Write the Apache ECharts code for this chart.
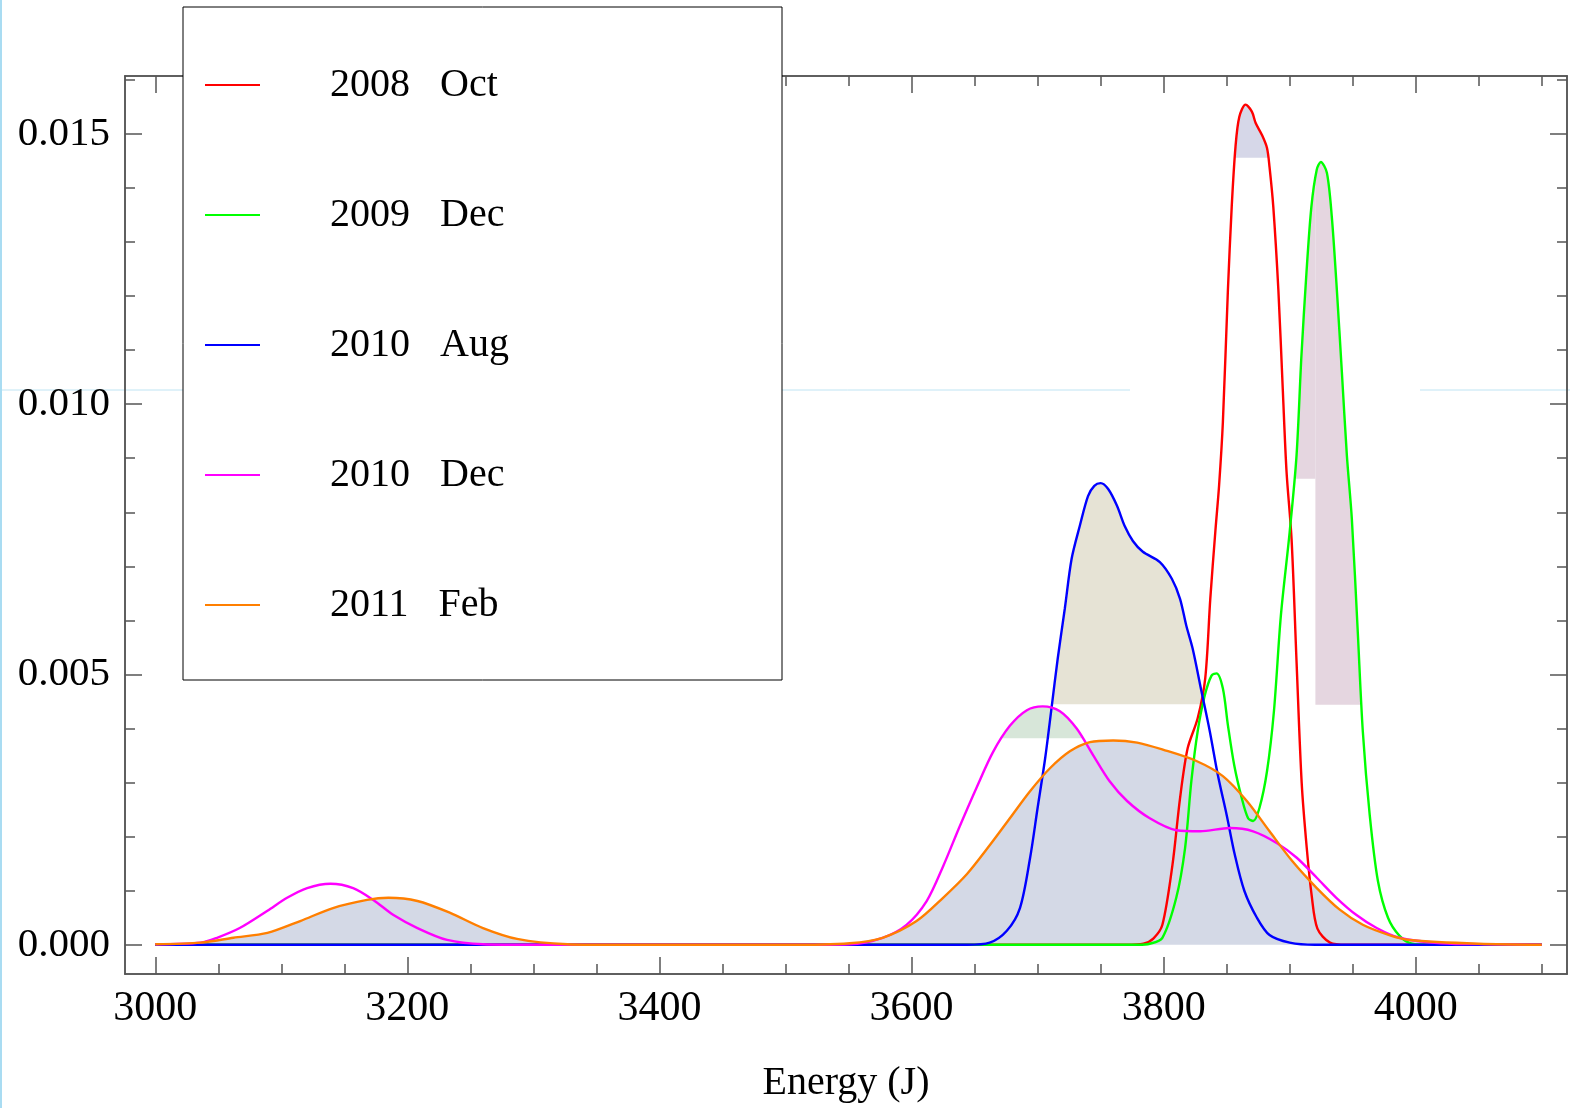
<!DOCTYPE html>
<html>
<head>
<meta charset="utf-8">
<title>Energy density</title>
<script src="https://cdn.jsdelivr.net/npm/echarts@6/dist/echarts.min.js"></script>
<style>
  html, body { margin: 0; padding: 0; background: #fff; }
  #chart { width: 1570px; height: 1108px; }
</style>
</head>
<body>
<div id="chart"></div>
<script>
// values, x in J, y = density
var seriesNames = ['2008   Oct', '2009   Dec', '2010   Aug', '2010   Dec', '2011   Feb'];
var seriesColors = ['#ff0000', '#00ff00', '#0000ff', '#ff00ff', '#ff7f00'];

var oct2008X = [3000, 3770, 3784, 3792, 3799, 3807, 3813, 3819, 3827, 3833, 3837, 3841, 3844, 3847, 3851, 3854, 3857, 3860, 3865, 3870, 3873, 3878, 3882, 3884, 3887, 3891, 3894.5, 3897.5, 3901.5, 3905.5, 3909.5, 3913.5, 3917.5, 3922, 3932, 3945, 4100];
var oct2008Y = [0, 0, 0.00002, 0.00012, 0.00037, 0.00148, 0.00271, 0.00363, 0.00419, 0.00493, 0.0064, 0.00764, 0.0085, 0.00967, 0.01212, 0.01365, 0.01476, 0.01531, 0.01554, 0.01541, 0.0152, 0.01498, 0.01474, 0.01439, 0.01365, 0.01212, 0.01028, 0.00875, 0.0075, 0.0052, 0.003, 0.0018, 0.0009, 0.0003, 0.00004, 0, 0];

var dec2009X = [3000, 3780, 3789, 3799, 3810, 3817, 3822, 3827, 3832.6, 3838, 3842, 3847, 3851, 3856, 3862, 3867, 3871, 3876, 3882, 3887.5, 3893, 3900, 3905.4, 3909.3, 3913.3, 3917.2, 3921.5, 3924.7, 3929.5, 3933.4, 3937.4, 3941.4, 3945.4, 3949.3, 3954, 3958, 3963.5, 3970, 3978, 3987, 3997, 4010, 4100];
var dec2009Y = [0, 0, 0.00002, 0.00013, 0.00087, 0.00179, 0.00303, 0.00395, 0.00461, 0.00498, 0.00502, 0.00474, 0.00406, 0.00332, 0.00271, 0.00234, 0.00229, 0.00253, 0.00321, 0.00432, 0.00609, 0.00764, 0.00904, 0.01089, 0.01243, 0.01365, 0.01434, 0.01448, 0.01428, 0.01347, 0.01212, 0.01059, 0.00904, 0.00788, 0.00579, 0.00395, 0.0024, 0.00118, 0.0005, 0.00017, 0.00002, 0, 0];

var aug2010X = [3000, 3644, 3662, 3675.6, 3686, 3694, 3700, 3706, 3711, 3716, 3721.6, 3727, 3733.5, 3740, 3745, 3750, 3756, 3763, 3769, 3775.6, 3783.5, 3797, 3806.5, 3813, 3818, 3823, 3830, 3836.6, 3843, 3850, 3856.5, 3864, 3874, 3884, 3900, 3920, 4100];
var aug2010Y = [0, 0, 0.00004, 0.00026, 0.00068, 0.0016, 0.00253, 0.00345, 0.00437, 0.0053, 0.00622, 0.00714, 0.00775, 0.0083, 0.00849, 0.00854, 0.00843, 0.00812, 0.00775, 0.00747, 0.00727, 0.00708, 0.00677, 0.0064, 0.0059, 0.00548, 0.00469, 0.00395, 0.00314, 0.0024, 0.00166, 0.001, 0.0005, 0.00018, 0.00004, 0, 0];

var dec2010X = [3000, 3036, 3049, 3067, 3089, 3104.6, 3120.5, 3139, 3157, 3173, 3189, 3208, 3231.5, 3260, 3300, 3500, 3551, 3577, 3596, 3612, 3625, 3638, 3652, 3664.5, 3678, 3691.5, 3704, 3717.7, 3731, 3744, 3757, 3771, 3789, 3810, 3829, 3852.5, 3871, 3890, 3905.6, 3921.5, 3937, 3953, 3969, 3987, 4020, 4060, 4100];
var dec2010Y = [0.00001, 0.00004, 0.00013, 0.00031, 0.00063, 0.00087, 0.00105, 0.00113, 0.00105, 0.00083, 0.00055, 0.00031, 0.00009, 0.00001, 0, 0, 0.00001, 0.00013, 0.00037, 0.00081, 0.00145, 0.00218, 0.00293, 0.00356, 0.00405, 0.00434, 0.00441, 0.00432, 0.004, 0.00351, 0.00303, 0.00266, 0.00234, 0.00212, 0.0021, 0.00216, 0.0021, 0.00188, 0.00161, 0.00124, 0.00087, 0.00055, 0.00031, 0.00013, 0.00003, 0.00001, 0];

var feb2011X = [3000, 3036, 3062, 3089, 3115, 3141, 3168, 3185, 3208, 3234, 3260, 3287, 3327, 3360, 3500, 3551, 3577, 3604, 3625, 3644, 3662, 3678, 3694, 3710, 3725.6, 3741.5, 3760, 3779, 3799.4, 3826, 3847, 3866, 3884, 3902, 3921.5, 3939.7, 3958, 3979, 3995, 4050, 4100];
var feb2011Y = [0.00001, 0.00004, 0.00013, 0.00022, 0.00044, 0.00068, 0.00083, 0.00087, 0.00081, 0.00059, 0.00031, 0.00011, 0.00001, 0, 0, 0.00003, 0.00013, 0.00044, 0.00087, 0.00131, 0.00184, 0.00234, 0.00284, 0.00327, 0.00358, 0.00375, 0.00378, 0.00374, 0.00361, 0.0034, 0.00312, 0.00266, 0.0021, 0.00155, 0.00105, 0.00065, 0.00037, 0.00018, 0.00009, 0.00002, 0];

var xMajorTicks = [3000, 3200, 3400, 3600, 3800, 4000];
var xMinorTicks = [3050, 3100, 3150, 3250, 3300, 3350, 3450, 3500, 3550, 3650, 3700, 3750, 3850, 3900, 3950, 4050, 4100];
var yMajorTicks = [0, 0.005, 0.010, 0.015];
var yMinorTicks = [0.001, 0.002, 0.003, 0.004, 0.006, 0.007, 0.008, 0.009, 0.011, 0.012, 0.013, 0.014, 0.016];

var allX = [oct2008X, dec2009X, aug2010X, dec2010X, feb2011X];
var allY = [oct2008Y, dec2009Y, aug2010Y, dec2010Y, feb2011Y];

var FONT = 'Liberation Serif';
var FRAME = '#555';
var SMOOTH = 0.3;

function pairs(xs, ys) {
    var out = [];
    for (var i = 0; i < xs.length; i++) out.push([xs[i], ys[i]]);
    return out;
}

// part of a curve above a level, cut to [x0, x1] (the odd shaded patches)
function above(xs, ys, level, x0, x1) {
    var out = [];
    function yAt(x) {
        for (var i = 0; i < xs.length - 1; i++) {
            if (x >= xs[i] && x <= xs[i + 1]) {
                var t = (x - xs[i]) / (xs[i + 1] - xs[i]);
                return ys[i] + t * (ys[i + 1] - ys[i]);
            }
        }
        return 0;
    }
    var pts = [x0];
    for (var i = 0; i < xs.length; i++) if (xs[i] > x0 && xs[i] < x1) pts.push(xs[i]);
    pts.push(x1);
    for (var k = 0; k < pts.length; k++) {
        var y = yAt(pts[k]);
        if (k > 0) {
            var yp = yAt(pts[k - 1]);
            if ((yp - level) * (y - level) < 0) {
                var xc = pts[k - 1] + (level - yp) / (y - yp) * (pts[k] - pts[k - 1]);
                out.push([xc, level]);
            }
        }
        if (y >= level) out.push([pts[k], y]);
    }
    return out;
}

function fill(data, level, color) {
    return {
        type: 'line',
        data: data,
        smooth: SMOOTH,
        symbol: 'none',
        silent: true,
        lineStyle: { width: 0, opacity: 0 },
        areaStyle: { color: color, opacity: 1, origin: level },
        z: 1
    };
}

var series = [];
series.push(fill(pairs(feb2011X, feb2011Y), 0, '#d4d9e6'));
series.push(fill(above(oct2008X, oct2008Y, 0.01456, 3000, 4100), 0.01456, '#d6d7e8'));
series.push(fill(above(dec2009X, dec2009Y, 0.00444, 3920.4, 4100), 0.00444, '#e5d6e0'));
series.push(fill(above(dec2009X, dec2009Y, 0.00862, 3904.8, 3920.4), 0.00862, '#e5d6e0'));
series.push(fill(above(aug2010X, aug2010Y, 0.00445, 3000, 4100), 0.00445, '#e6e3d5'));
series.push(fill(above(dec2010X, dec2010Y, 0.00382, 3000, 4100), 0.00382, '#d7e6d9'));

for (var s = 0; s < seriesNames.length; s++) {
    series.push({
        name: seriesNames[s],
        type: 'line',
        data: pairs(allX[s], allY[s]),
        smooth: SMOOTH,
        symbol: 'none',
        color: seriesColors[s],
        lineStyle: { width: 2.4, color: seriesColors[s] },
        z: 3
    });
}

function xAx(pos, ticks, len, labels) {
    return {
        type: 'value', position: pos, min: 2976, max: 4120,
        axisLine: { show: true, onZero: false, lineStyle: { color: FRAME, width: 1.5 } },
        axisTick: { show: true, inside: true, length: len, customValues: ticks, lineStyle: { color: FRAME, width: 1.5 } },
        axisLabel: labels ? { show: true, customValues: ticks, margin: 14, fontSize: 42, fontFamily: FONT, color: '#000',
            formatter: function (v) { return String(v); } } : { show: false },
        splitLine: { show: false }
    };
}
function yAx(pos, ticks, len, labels) {
    return {
        type: 'value', position: pos, min: -0.00054, max: 0.01607,
        axisLine: { show: true, onZero: false, lineStyle: { color: FRAME, width: 1.5 } },
        axisTick: { show: true, inside: true, length: len, customValues: ticks, lineStyle: { color: FRAME, width: 1.5 } },
        axisLabel: labels ? { show: true, customValues: ticks, margin: 15, fontSize: 41, fontFamily: FONT, color: '#000',
            formatter: function (v) { return v.toFixed(3); } } : { show: false },
        splitLine: { show: false }
    };
}

var xAxes = [xAx('bottom', xMajorTicks, 17, true), xAx('bottom', xMinorTicks, 10, false),
             xAx('top', xMajorTicks, 17, false), xAx('top', xMinorTicks, 10, false)];
xAxes[0].name = 'Energy (J)';
xAxes[0].nameLocation = 'middle';
xAxes[0].nameGap = 89;
xAxes[0].nameTextStyle = { fontSize: 40, fontFamily: FONT, color: '#000' };

var yAxes = [yAx('left', yMajorTicks, 17, true), yAx('left', yMinorTicks, 10, false),
             yAx('right', yMajorTicks, 17, false), yAx('right', yMinorTicks, 10, false)];

var myChart = echarts.init(document.getElementById('chart'));
var option = {
    animation: false,
    backgroundColor: '#fff',
    grid: { left: 125, right: 3, top: 76, bottom: 132, containLabel: false },
    legend: {
        data: seriesNames,
        orient: 'vertical',
        left: 183, top: 7,
        padding: [58, 202, 55, 22],
        itemGap: 90,
        itemWidth: 55,
        itemHeight: 2,
        icon: 'rect',
        backgroundColor: '#fff',
        borderColor: '#000',
        borderWidth: 1,
        borderRadius: 0,
        selectedMode: false,
        textStyle: { fontSize: 40, fontFamily: FONT, color: '#000', lineHeight: 40, padding: [0, 0, 0, 65], width: 250 }
    },
    graphic: [
        { type: 'line', z: 0, silent: true, shape: { x1: 0, y1: 390, x2: 1130, y2: 390 }, style: { stroke: '#bfe4f3', lineWidth: 1 } },
        { type: 'line', z: 0, silent: true, shape: { x1: 1420, y1: 390, x2: 1570, y2: 390 }, style: { stroke: '#bfe4f3', lineWidth: 1 } },
        { type: 'line', z: 0, silent: true, shape: { x1: 1, y1: 0, x2: 1, y2: 1108 }, style: { stroke: '#a9dcf2', lineWidth: 2 } }
    ],
    xAxis: xAxes,
    yAxis: yAxes,
    series: series
};
myChart.setOption(option);
</script>
</body>
</html>
